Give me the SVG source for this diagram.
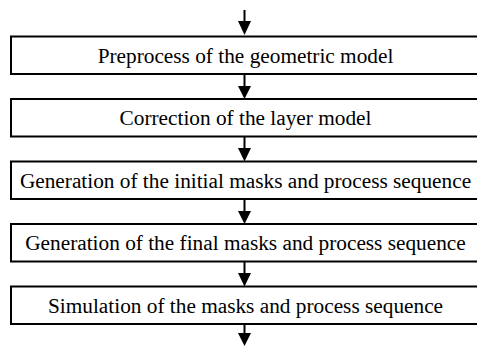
<svg xmlns="http://www.w3.org/2000/svg" width="477" height="347" viewBox="0 0 477 347">
<defs>
<style>
.box{fill:#fff;stroke:#000;stroke-width:2}
.lbl{font-family:"Liberation Serif","Times New Roman",serif;font-size:21.3px;fill:#000;text-anchor:middle}
.conn{stroke:#000;stroke-width:2;fill:none}
.head{fill:#000;stroke:none}
</style>
</defs>
<g id="connectors">
<line class="conn" x1="244.5" y1="10" x2="244.5" y2="24"/>
<polygon class="head" points="238,21 251,21 244.5,35"/>
<line class="conn" x1="244.5" y1="74" x2="244.5" y2="88"/>
<polygon class="head" points="238,86 251,86 244.5,99"/>
<line class="conn" x1="244.5" y1="137" x2="244.5" y2="151"/>
<polygon class="head" points="238,148 251,148 244.5,161.5"/>
<line class="conn" x1="244.5" y1="199" x2="244.5" y2="213"/>
<polygon class="head" points="238,211 251,211 244.5,224"/>
<line class="conn" x1="244.5" y1="262" x2="244.5" y2="276"/>
<polygon class="head" points="238,273 251,273 244.5,286.5"/>
<line class="conn" x1="244.5" y1="324" x2="244.5" y2="338"/>
<polygon class="head" points="238,333 251,333 244.5,346"/>
</g>
<g id="n1">
<rect class="box" x="11" y="36.5" width="470" height="37.5"/>
<text class="lbl" x="245.5" y="62.5">Preprocess of the geometric model</text>
</g>
<g id="n2">
<rect class="box" x="11" y="99" width="470" height="37.5"/>
<text class="lbl" x="245.5" y="125">Correction of the layer model</text>
</g>
<g id="n3">
<rect class="box" x="11" y="161.5" width="470" height="37.5"/>
<text class="lbl" x="245.5" y="187.5">Generation of the initial masks and process sequence</text>
</g>
<g id="n4">
<rect class="box" x="11" y="224" width="470" height="37.5"/>
<text class="lbl" x="245.5" y="250">Generation of the final masks and process sequence</text>
</g>
<g id="n5">
<rect class="box" x="11" y="286.5" width="470" height="37.5"/>
<text class="lbl" x="245.5" y="312.5">Simulation of the masks and process sequence</text>
</g>
</svg>
